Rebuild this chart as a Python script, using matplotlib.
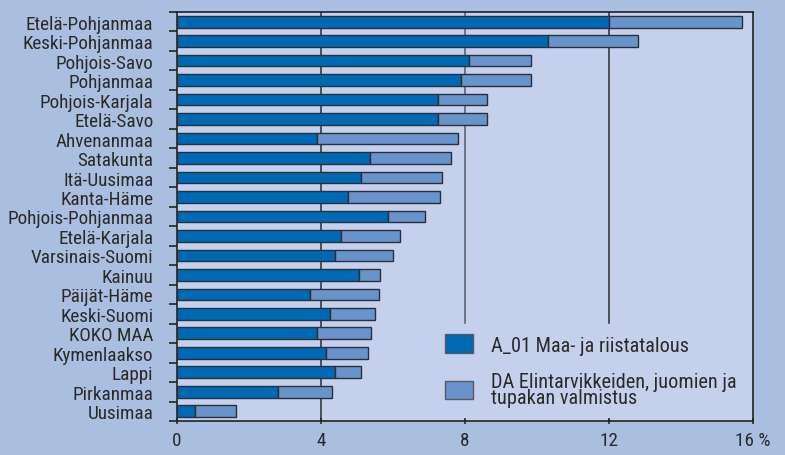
import matplotlib
matplotlib.use("Agg")
import matplotlib.pyplot as plt
from matplotlib.patches import Patch

plt.rcParams["font.family"] = ["Roboto Condensed", "Liberation Sans Narrow", "Liberation Sans", "DejaVu Sans"]

regions = ["Etelä-Pohjanmaa", "Keski-Pohjanmaa", "Pohjois-Savo", "Pohjanmaa",
           "Pohjois-Karjala", "Etelä-Savo", "Ahvenanmaa", "Satakunta",
           "Itä-Uusimaa", "Kanta-Häme", "Pohjois-Pohjanmaa", "Etelä-Karjala",
           "Varsinais-Suomi", "Kainuu", "Päijät-Häme", "Keski-Suomi",
           "KOKO MAA", "Kymenlaakso", "Lappi", "Pirkanmaa", "Uusimaa"]
# A_01 Maa- ja riistatalous (%)
agri = [12.0, 10.3, 8.1, 7.9, 7.25, 7.25, 3.9, 5.35, 5.1, 4.75, 5.85,
        4.55, 4.4, 5.05, 3.7, 4.25, 3.9, 4.15, 4.4, 2.8, 0.5]
# DA Elintarvikkeiden, juomien ja tupakan valmistus (%), cumulative end
total = [15.7, 12.8, 9.85, 9.85, 8.6, 8.6, 7.8, 7.6, 7.35, 7.3, 6.9,
         6.2, 6.0, 5.65, 5.6, 5.5, 5.4, 5.3, 5.1, 4.3, 1.65]
food = [t - a for t, a in zip(total, agri)]

xticks = [0, 4, 8, 12, 16]
xticklabels = ["0", "4", "8", "12", "16 %"]

fig_bg = "#aabfe0"
ax_bg = "#c5d1ec"
dark = "#0069b4"
light = "#6893cb"
edge = "#2b2f3a"
text_c = "#2a2a2a"
fs = 13.8

fig = plt.figure(figsize=(7.85, 4.56), dpi=100, facecolor=fig_bg)
ax = fig.add_axes([0.2255, 0.0746, 0.7335, 0.897], facecolor=ax_bg)

n = len(regions)
ys = list(range(n))
for x in [4, 8, 12]:
    ax.axvline(x, color="#2a2a2a" if x != 8 else "#555a66", lw=1.1, zorder=1)

ax.barh(ys, agri, height=0.6, color=dark, edgecolor=edge, lw=1.0, zorder=3)
ax.barh(ys, food, left=agri, height=0.6, color=light, edgecolor=edge, lw=1.0, zorder=3)

ax.set_ylim(n - 0.5, -0.5)
ax.set_xlim(0, 16)
ax.set_yticks(ys)
ax.set_yticklabels(regions, fontsize=fs, color=text_c)
ax.tick_params(axis="y", length=0, pad=17)
ax.set_yticks([i - 0.5 for i in range(n + 1)], minor=True)
ax.tick_params(axis="y", which="minor", length=6, width=1.2, color="#222222", direction="out")
ax.set_xticks(xticks)
ax.set_xticklabels(xticklabels, fontsize=fs, color=text_c)
ax.tick_params(axis="x", length=5, width=1.1, direction="inout", pad=5, color="#222222")

for s in ax.spines.values():
    s.set_color("#222222")
    s.set_linewidth(1.2)

handles = [Patch(facecolor=dark, edgecolor="#555a66", label="A_01 Maa- ja riistatalous"),
           Patch(facecolor=light, edgecolor="#555a66",
                 label="DA Elintarvikkeiden, juomien ja\ntupakan valmistus")]
leg = ax.legend(handles=handles, loc="lower left", bbox_to_anchor=(0.43, -0.015),
                fontsize=14.6, frameon=True, facecolor=ax_bg, edgecolor=ax_bg,
                framealpha=1, fancybox=False, handlelength=1.4, handleheight=1.05,
                labelspacing=0.85, borderpad=0.5, handletextpad=0.85)
leg.set_zorder(5)
for t in leg.get_texts():
    t.set_color(text_c)
    t.set_linespacing(0.8)

fig.savefig("out.png", dpi=100, facecolor=fig_bg)
